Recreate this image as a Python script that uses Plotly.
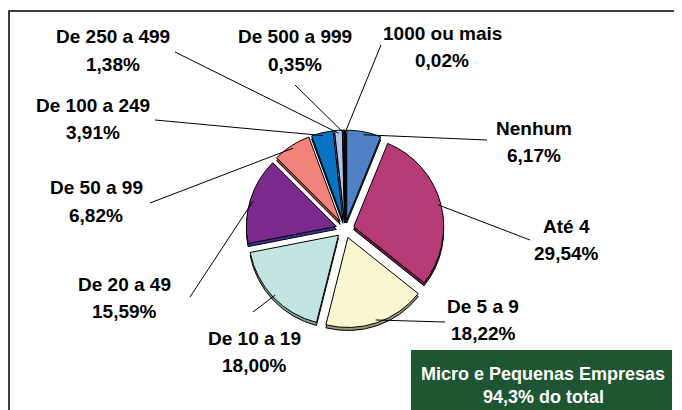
import math
import plotly.graph_objects as go

# ---------------- data ----------------
categories = ["Nenhum", "Até 4", "De 5 a 9", "De 10 a 19", "De 20 a 49",
              "De 50 a 99", "De 100 a 249", "De 250 a 499", "De 500 a 999", "1000 ou mais"]
shares = [6.17, 29.54, 18.22, 18.00, 15.59, 6.82, 3.91, 1.38, 0.35, 0.02]
share_labels = ["6,17%", "29,54%", "18,22%", "18,00%", "15,59%",
                "6,82%", "3,91%", "1,38%", "0,35%", "0,02%"]
box_lines = ["Micro e Pequenas Empresas", "94,3% do total"]

# ---------------- styles / layout ----------------
W, H = 682, 410
OFF = 8  # page body margin offset compensation
colors = ["#4F81C4", "#B63A75", "#FAF6CF", "#C4E4E1", "#7A2A8C",
          "#F2837A", "#0873C2", "#B2C4EA", "#2B2F86", "#000000"]
edge_colors = ["#2D4F80", "#6E2046", "#9C967A", "#7FA09C", "#3E2F94",
               "#9A4A42", "#064A7E", "#6E7EA0", "#1A1C55", "#000000"]
CX, CY, HALF = 345, 229, 99
PULL = 0.1
DEPTH = 3
FONT = "Liberation Sans, Arial, sans-serif"

# label block positions (px: center x, first-line y) and leader-line anchors
label_pos = [(534, 128), (566, 226), (483, 306), (254, 338), (125, 284),
             (96, 188), (93, 105), (113, 37), (295, 37), (442, 33)]
line_gap = 27
anchors = [(487, 140), (530, 240), (445, 322), (253, 312), (190, 297),
           (150, 203), (155, 120), (175, 52), (295, 85), (381, 45)]


def px(x):
    return (x - OFF) / W


def py(y):
    return 1 - (y - OFF) / H


def domain(cy):
    return dict(x=[px(CX - HALF), px(CX + HALF)], y=[py(cy + HALF), py(cy - HALF)])


fig = go.Figure()
# depth (3D edge) layer
fig.add_trace(go.Pie(
    labels=categories, values=shares, sort=False, direction="clockwise",
    rotation=0, pull=PULL, textinfo="none", hoverinfo="skip",
    marker=dict(colors=edge_colors, line=dict(color="#000000", width=1)),
    domain=domain(CY + DEPTH), showlegend=False,
))
# top faces
fig.add_trace(go.Pie(
    labels=categories, values=shares, sort=False, direction="clockwise",
    rotation=0, pull=PULL, textinfo="none", hoverinfo="skip",
    marker=dict(colors=colors, line=dict(color="#000000", width=1)),
    domain=domain(CY), showlegend=False,
))

shapes = []
annotations = []
total = sum(shares)
cum = 0.0
for i, v in enumerate(shares):
    mid = (cum + v / 2) / total * 2 * math.pi
    cum += v
    sx = CX + HALF * 0.97 * math.sin(mid)
    sy = CY - HALF * 0.97 * math.cos(mid)
    ax, ay = anchors[i]
    shapes.append(dict(type="line", xref="paper", yref="paper",
                       x0=px(sx), y0=py(sy), x1=px(ax), y1=py(ay),
                       line=dict(color="#000000", width=1)))
    lx, ly = label_pos[i]
    annotations.append(dict(x=px(lx), y=py(ly), xref="paper", yref="paper",
                            text="<b>%s</b>" % categories[i], showarrow=False,
                            xanchor="center", yanchor="middle",
                            font=dict(family=FONT, size=19, color="#000000")))
    annotations.append(dict(x=px(lx), y=py(ly + line_gap), xref="paper", yref="paper",
                            text="<b>%s</b>" % share_labels[i], showarrow=False,
                            xanchor="center", yanchor="middle",
                            font=dict(family=FONT, size=19, color="#000000")))

# chart border
shapes.append(dict(type="rect", xref="paper", yref="paper",
                   x0=px(9), y0=py(440), x1=px(720), y1=py(11),
                   line=dict(color="#000000", width=1.5), fillcolor="rgba(0,0,0,0)"))
# green summary box
shapes.append(dict(type="rect", xref="paper", yref="paper",
                   x0=px(411), y0=py(420), x1=px(672), y1=py(350),
                   line=dict(width=0), fillcolor="#1E5634"))
for j, t in enumerate(box_lines):
    annotations.append(dict(x=px(543), y=py(374 + 23 * j), xref="paper", yref="paper",
                            text="<b>%s</b>" % t, showarrow=False,
                            xanchor="center", yanchor="middle",
                            font=dict(family=FONT, size=18, color="#FFFFFF")))

fig.update_layout(
    width=W, height=H, margin=dict(l=0, r=0, t=0, b=0),
    paper_bgcolor="#FFFFFF", plot_bgcolor="#FFFFFF",
    shapes=shapes, annotations=annotations, showlegend=False,
)

fig.write_html("out.html")
